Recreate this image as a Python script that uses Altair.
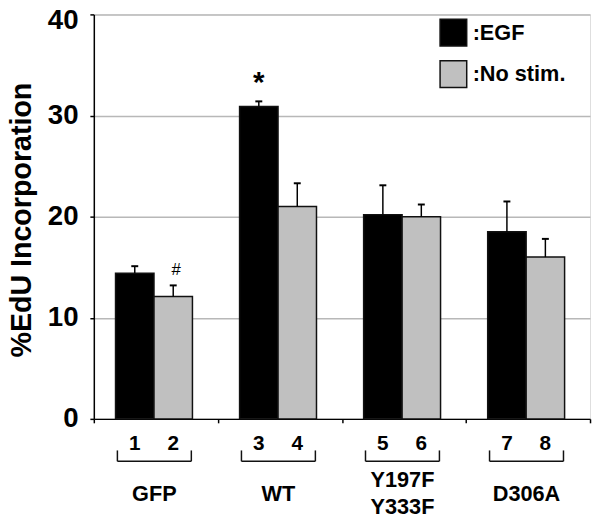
import altair as alt
import pandas as pd

# ---- data ----
groups = ["GFP", "WT", "Y197F\nY333F", "D306A"]
conditions = ["EGF", "No stim."]
egf_mean = [14.4, 30.9, 20.2, 18.5]
egf_err = [0.7, 0.5, 2.9, 3.0]
nostim_mean = [12.1, 21.0, 20.0, 16.0]
nostim_err = [1.1, 2.3, 1.2, 1.8]
lanes = ["1", "2", "3", "4", "5", "6", "7", "8"]
marks = ["", "#", "*", "", "", "", "", ""]
y_ticks = [0, 10, 20, 30, 40]

FONT = "Liberation Sans"

rows = []
k = 0
for gi, g in enumerate(groups):
    for c, m, e in (("EGF", egf_mean[gi], egf_err[gi]), ("No stim.", nostim_mean[gi], nostim_err[gi])):
        rows.append({"gi": gi, "group": g, "cond": c, "value": m, "err": e,
                     "lane": lanes[k], "mark": marks[k]})
        k += 1
df = pd.DataFrame(rows)
gdf = pd.DataFrame({"gi": list(range(len(groups))), "name": groups})

xscale = alt.Scale(domain=[0, len(groups)], nice=False, zero=False)
yscale = alt.Scale(domain=[0, 40], nice=False)

base = alt.Chart(df).transform_calculate(
    x0="datum.gi + (datum.cond == 'EGF' ? 0.175 : 0.485)",
).transform_calculate(
    x1="datum.x0 + 0.31",
    xc="datum.x0 + 0.155",
    cl="datum.x0 + 0.155 - 0.028",
    cr="datum.x0 + 0.155 + 0.028",
    top="datum.value + datum.err",
)

bars = base.mark_rect(stroke="#111", strokeWidth=1.5).encode(
    x=alt.X("x0:Q", scale=xscale,
            axis=alt.Axis(values=[0, 1, 2, 3, 4], labels=False, title=None, grid=False,
                          tickSize=4, tickColor="black", tickWidth=1.5,
                          domainColor="black", domainWidth=1.5)),
    x2="x1:Q",
    y=alt.Y("value:Q", scale=yscale,
            axis=alt.Axis(values=y_ticks, title="%EdU Incorporation", grid=True,
                          gridColor="#b8b8b8", gridWidth=1.5,
                          tickSize=4, tickColor="black", tickWidth=1.5,
                          domainColor="black", domainWidth=1.5,
                          labelFont=FONT, labelFontSize=28, labelFontWeight="bold",
                          labelColor="black", labelPadding=12,
                          labelOffset={"condition": {"test": "datum.value == 40", "value": 6}, "value": 0},
                          titleFont=FONT, titleFontSize=29, titleFontWeight="bold",
                          titleColor="black", titleAngle=-90, titleBaseline="alphabetic",
                          titleAlign="center", titleX=-64, titleY=208)),
    y2=alt.datum(0),
    color=alt.Color("cond:N", scale=alt.Scale(domain=conditions, range=["#000000", "#c0c0c0"]),
                    legend=alt.Legend(title=None, orient="none", legendX=350, legendY=4,
                                      symbolType="square", symbolSize=729,
                                      symbolStrokeColor="#111", symbolStrokeWidth=1.5,
                                      symbolOpacity=1,
                                      labelFont=FONT, labelFontSize=22, labelFontWeight="bold",
                                      labelColor="black", labelOffset=5, rowPadding=9,
                                      padding=0, labelExpr="':' + datum.label")),
)

err_rule = base.mark_rule(color="black", strokeWidth=1.5).encode(
    x="xc:Q", y="value:Q", y2="top:Q")
err_cap = base.mark_rule(color="black", strokeWidth=2).encode(
    x="cl:Q", x2="cr:Q", y="top:Q")

star = base.transform_filter("datum.mark == '*'").mark_text(
    font=FONT, fontSize=30, fontWeight="bold", baseline="alphabetic", dy=-9, color="black"
).encode(x="xc:Q", y="top:Q", text="mark:N")
hashm = base.transform_filter("datum.mark == '#'").mark_text(
    font=FONT, fontSize=17, baseline="alphabetic", dy=-11, dx=3, color="black"
).encode(x="xc:Q", y="top:Q", text="mark:N")

lane_text = base.mark_text(font=FONT, fontSize=21, fontWeight="bold", baseline="alphabetic",
                           color="black").encode(x="xc:Q", y=alt.value(442), text="lane:N")

gbase = alt.Chart(gdf).transform_calculate(
    bl="datum.gi + 0.19", br="datum.gi + 0.786", gc="datum.gi + 0.488")
br_h = gbase.mark_rule(color="#111", strokeWidth=1.5).encode(
    x="bl:Q", x2="br:Q", y=alt.value(453))
br_l = gbase.mark_rule(color="#111", strokeWidth=1.5).encode(
    x="bl:Q", y=alt.value(442), y2=alt.value(453))
br_r = gbase.mark_rule(color="#111", strokeWidth=1.5).encode(
    x="br:Q", y=alt.value(442), y2=alt.value(453))
glabel1 = gbase.transform_filter("indexof(datum.name, '\\n') < 0").mark_text(
    font=FONT, fontSize=22, fontWeight="bold", baseline="middle", color="black").encode(
    x="gc:Q", y=alt.value(486), text="name:N")
glabel2 = gbase.transform_filter("indexof(datum.name, '\\n') >= 0").mark_text(
    font=FONT, fontSize=22, fontWeight="bold", baseline="middle",
    lineBreak="\n", lineHeight=27, color="black").encode(
    x="gc:Q", y=alt.value(472), text="name:N")

chart = alt.layer(bars, err_rule, err_cap, star, hashm, lane_text, br_h, br_l, br_r,
                  glabel1, glabel2).properties(
    width=503, height=410,
    autosize=alt.AutoSizeParams(type="none"),
    padding={"left": 87, "top": 3, "right": 2, "bottom": 98},
).configure_view(stroke="black", strokeWidth=1.5).configure(background="white")

chart.save("out.html", embed_options={"renderer": "svg", "actions": False})
